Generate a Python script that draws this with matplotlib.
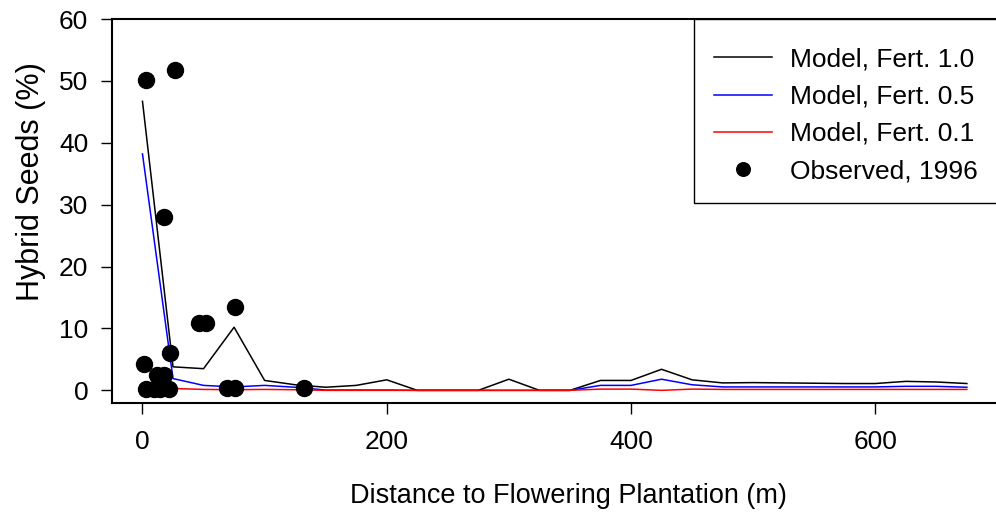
import numpy as np
import matplotlib.pyplot as plt

plt.rcParams['font.family'] = ['Liberation Sans', 'DejaVu Sans']

# model distances (m) and predicted hybrid seed percentages
dist = np.arange(0, 700, 25)
fert_10 = [46.7, 3.8, 3.5, 10.2, 1.6, 0.9, 0.5, 0.8, 1.7, 0, 0, 0, 1.8, 0, 0,
           1.6, 1.6, 3.4, 1.7, 1.2, 1.25, 1.2, 1.15, 1.1, 1.1, 1.45, 1.35, 1.1]
fert_05 = [38.2, 1.9, 0.8, 0.55, 0.8, 0.5, 0.05, 0.05, 0.05, 0, 0, 0, 0, 0, 0,
           0.8, 0.8, 1.8, 0.9, 0.55, 0.55, 0.55, 0.55, 0.55, 0.55, 0.65, 0.65, 0.5]
fert_01 = [1.0, 0.3, 0.15, 0.1, 0.15, 0.1, 0, 0, 0, 0, 0, 0, 0, 0, 0,
           0.2, 0.2, 0.0, 0.2, 0.15, 0.15, 0.15, 0.15, 0.15, 0.15, 0.15, 0.15, 0.15]

# observed 1996
obs_x = [2.5, 27, 17.5, 22.4, 1.6, 12, 17.4, 2.5, 9.3, 14.7, 21.5,
         46.6, 52, 76, 69, 76, 132]
obs_y = [50.2, 51.8, 28, 6.0, 4.2, 2.4, 2.4, 0.27, 0.27, 0.27, 0.27,
         10.9, 10.9, 13.4, 0.3, 0.3, 0.3]

fs = 19

fig = plt.figure(figsize=(9.96, 5.14), dpi=100)
ax = fig.add_axes([0.1124, 0.2165, 0.889, 0.7465])

ax.plot(dist, fert_10, color='black', lw=1.1, label='Model, Fert. 1.0')
ax.plot(dist, fert_05, color='blue', lw=1.1, label='Model, Fert. 0.5')
ax.plot(dist, fert_01, color='red', lw=1.1, label='Model, Fert. 0.1')
ax.plot(obs_x, obs_y, 'o', color='black', ms=11.5, label='Observed, 1996')

ax.set_xlim(-25, 700)
ax.set_ylim(-2, 60)
ax.set_xticks([0, 200, 400, 600])
ax.set_yticks(range(0, 61, 10))

for s in ['left', 'bottom', 'top']:
    ax.spines[s].set_linewidth(1.5)
ax.spines['right'].set_visible(False)

ax.tick_params(axis='both', direction='out', length=8, width=1.0, labelsize=fs)
ax.tick_params(axis='x', pad=12)
ax.tick_params(axis='y', pad=9)

ax.set_xlabel('Distance to Flowering Plantation (m)', fontsize=19.5)
ax.xaxis.set_label_coords(0.5155, -0.2095)
ax.set_ylabel('Hybrid Seeds (%)', fontsize=22)
ax.yaxis.set_label_coords(-0.075, 0.5765)

leg = ax.legend(loc='upper right', bbox_to_anchor=(1.0, 1.0), borderaxespad=0,
                fontsize=fs, fancybox=False, edgecolor='black', framealpha=1,
                handlelength=2.2, handletextpad=0.65, borderpad=0.76,
                labelspacing=0.5, markerscale=0.85,
                title=' ', title_fontsize=1)
leg._legend_box.sep = 5.4  # small gap above the first row
leg.get_frame().set_linewidth(1.0)

fig.savefig('out.png', dpi=100)
